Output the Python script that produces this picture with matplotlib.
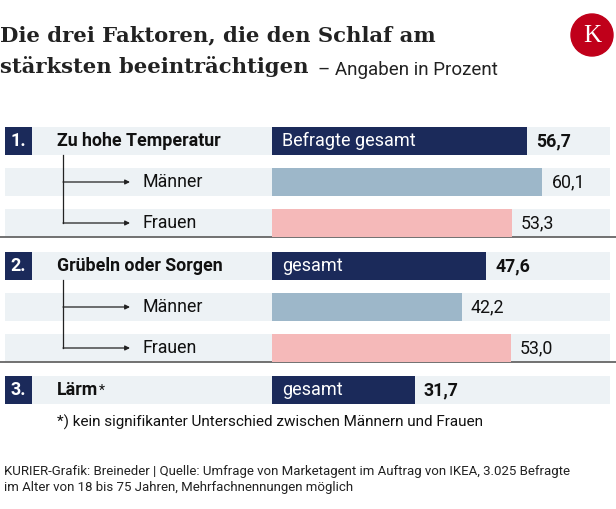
import matplotlib

matplotlib.use("Agg")
import matplotlib.pyplot as plt
from matplotlib.patches import Rectangle, Circle

# --- data -------------------------------------------------------------------
factors = ["Zu hohe Temperatur", "Grübeln oder Sorgen", "Lärm"]
total_labels = ["Befragte gesamt", "gesamt", "gesamt"]
total_values = [56.7, 47.6, 31.7]
men_values = [60.1, 42.2, None]
women_values = [53.3, 53.0, None]
sub_labels = ["Männer", "Frauen"]

NAVY = "#1b2a5a"
MEN = "#9db7c9"
WOMEN = "#f5b9b9"
ROW_BG = "#edf2f5"
W, H = 616, 509
PX_PER_PCT = 4.5
BAR_X0 = 272
ROW_H = 28

fig = plt.figure(figsize=(W / 100, H / 100), dpi=100)
ax = fig.add_axes([0, 0, 1, 1])
ax.set_xlim(0, W)
ax.set_ylim(H, 0)
ax.axis("off")

# bar axes: x in percent, y in pixels
bx = fig.add_axes([BAR_X0 / W, 0, (W - BAR_X0) / W, 1])
bx.set_xlim(0, (W - BAR_X0) / PX_PER_PCT)
bx.set_ylim(H, 0)
bx.axis("off")
bx.patch.set_alpha(0)

sans = "Roboto"
renderer = fig.canvas.get_renderer()


def fmt(v):
    return f"{v:.1f}".replace(".", ",")


def right_edge(t):
    bb = t.get_window_extent(renderer)
    return bb.x1


# title
t1 = ax.text(0, 35, "Die drei Faktoren, die den Schlaf am", fontsize=16, fontweight="bold",
             family="DejaVu Serif", va="center", ha="left", color="#222222")
# fit first line to ~435 px
w1 = t1.get_window_extent(renderer).width
t1.set_fontsize(16 * 435 / w1)
fs_title = t1.get_fontsize()
t2 = ax.text(0, 67, "stärksten beeinträchtigen", fontsize=fs_title, fontweight="bold",
             family="DejaVu Serif", va="center", ha="left", color="#222222")
ax.text(318, 70, "– Angaben in Prozent", fontsize=13.5, family=sans,
        va="center", ha="left", color="#222222")

# logo
ax.add_patch(Circle((592, 35), 21, color="#c0001a"))
ax.text(592, 36, "K", fontsize=18, family="Liberation Serif", color="white",
        ha="center", va="center")

section_tops = [127, 252, 376]
for i, (name, lab, tot) in enumerate(zip(factors, total_labels, total_values)):
    top = section_tops[i]
    yc = top + ROW_H / 2
    ax.add_patch(Rectangle((5, top), 605, ROW_H, color=ROW_BG, lw=0, zorder=0))
    ax.add_patch(Rectangle((5, top), 27, ROW_H, color=NAVY, lw=0, zorder=1))
    ax.text(18.5, yc, f"{i + 1}.", color="white", fontsize=13, fontweight="bold",
            family=sans, ha="center", va="center")
    nt = ax.text(57, yc, name, fontsize=12.8, fontweight="bold", family=sans,
                 ha="left", va="center", color="#111111")
    bx.barh(yc, tot, height=ROW_H, left=0, color=NAVY)
    bx.text(10 / PX_PER_PCT, yc, lab, color="white", fontsize=13, family=sans,
            ha="left", va="center")
    bx.text(tot + 9 / PX_PER_PCT, yc, fmt(tot), fontsize=12.8, fontweight="bold",
            family=sans, ha="left", va="center", color="#111111")
    if men_values[i] is None:
        xe = right_edge(nt)
        ax.text(xe + 1, yc + 1, "*", fontsize=10, family=sans, ha="left", va="center",
                color="#111111")
        continue
    subs = [men_values[i], women_values[i]]
    cols = [MEN, WOMEN]
    line_bottom = top + ROW_H + 2 * 41
    for j, (sl, v, c) in enumerate(zip(sub_labels, subs, cols)):
        stop = top + 41 * (j + 1)
        syc = stop + ROW_H / 2
        ax.add_patch(Rectangle((5, stop), 605, ROW_H, color=ROW_BG, lw=0, zorder=0))
        bx.barh(syc, v, height=ROW_H, left=0, color=c)
        bx.text(v + 9 / PX_PER_PCT, syc, fmt(v), fontsize=12.8, family=sans,
                ha="left", va="center", color="#111111")
        ax.text(143, syc, sl, fontsize=12.8, family=sans, ha="left",
                va="center", color="#111111")
        ax.annotate("", xy=(130, syc), xytext=(63, syc),
                    arrowprops=dict(arrowstyle="-|>", color="#222222", lw=0.9,
                                    mutation_scale=7, shrinkA=0, shrinkB=0))
    ax.plot([63, 63], [top + ROW_H, top + 41 * 2 + ROW_H / 2], color="#222222", lw=0.9)
    ax.plot([0, W], [line_bottom, line_bottom], color="#666666", lw=1.3)

ax.text(57, 422, "*) kein signifikanter Unterschied zwischen Männern und Frauen",
        fontsize=11, family=sans, ha="left", va="center", color="#111111")
ax.text(4, 471, "KURIER-Grafik: Breineder | Quelle: Umfrage von Marketagent im Auftrag von IKEA, 3.025 Befragte",
        fontsize=9.5, family=sans, ha="left", va="center", color="#222222")
ax.text(4, 488, "im Alter von 18 bis 75 Jahren, Mehrfachnennungen möglich",
        fontsize=9.5, family=sans, ha="left", va="center", color="#222222")

fig.savefig("out.png", dpi=100)
